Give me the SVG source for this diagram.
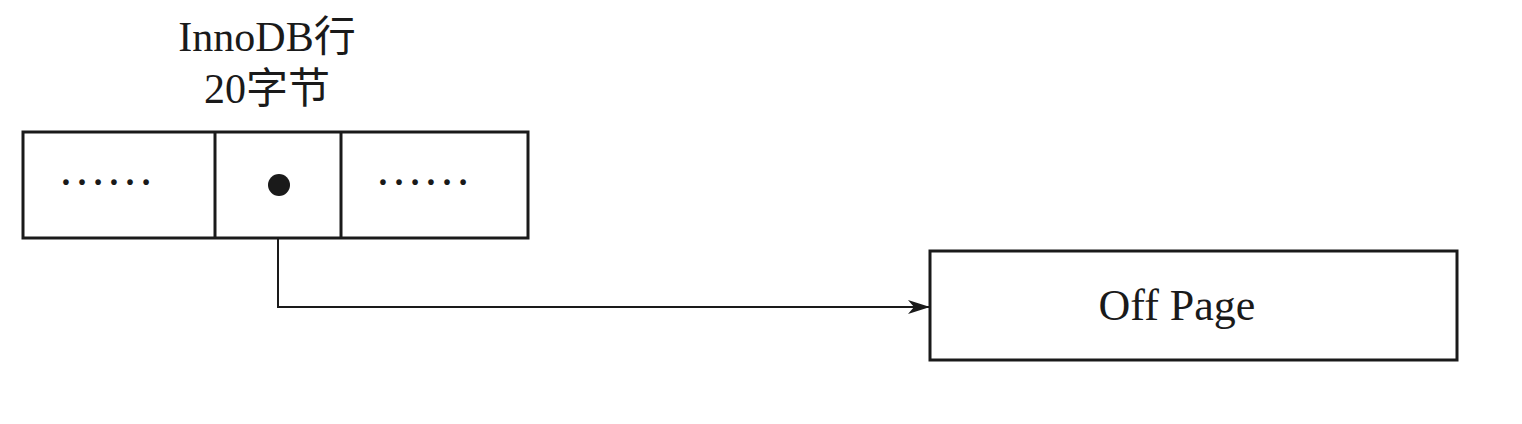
<svg xmlns="http://www.w3.org/2000/svg" width="1522" height="424" viewBox="0 0 1522 424">
<style>
.box{fill:#fff;stroke:#1a1a1a;stroke-width:3}
.div{stroke:#1a1a1a;stroke-width:3}
.t{font-family:"Liberation Serif","Noto Sans CJK SC",serif;fill:#1a1a1a}
.wire{fill:none;stroke:#1a1a1a;stroke-width:2}
</style>
<defs>
<marker id="arr" markerUnits="userSpaceOnUse" markerWidth="24" markerHeight="14" refX="22" refY="7" orient="auto">
<path d="M0,0 L22,7 L0,14 L6,7 Z" fill="#1a1a1a"/>
</marker>
</defs>
<rect width="1522" height="424" fill="#fff"/>
<g id="row">
<text class="t" x="267" y="51" font-size="42" text-anchor="middle">InnoDB行</text>
<text class="t" x="267" y="103" font-size="42" text-anchor="middle">20字节</text>
<rect class="box" x="23" y="132" width="505" height="106"/>
<line class="div" x1="215" y1="132" x2="215" y2="238"/>
<line class="div" x1="341" y1="132" x2="341" y2="238"/>
<text class="t" x="58" y="185" font-size="48">……</text>
<circle cx="279" cy="185" r="11" fill="#1a1a1a"/>
<text class="t" x="375" y="185" font-size="48">……</text>
</g>
<g id="connectors">
<path class="wire" d="M278,238 V307 H930" marker-end="url(#arr)"/>
</g>
<g id="offpage">
<rect class="box" x="930" y="251" width="527" height="109"/>
<text class="t" x="1177" y="320" font-size="44" text-anchor="middle">Off Page</text>
</g>
</svg>
